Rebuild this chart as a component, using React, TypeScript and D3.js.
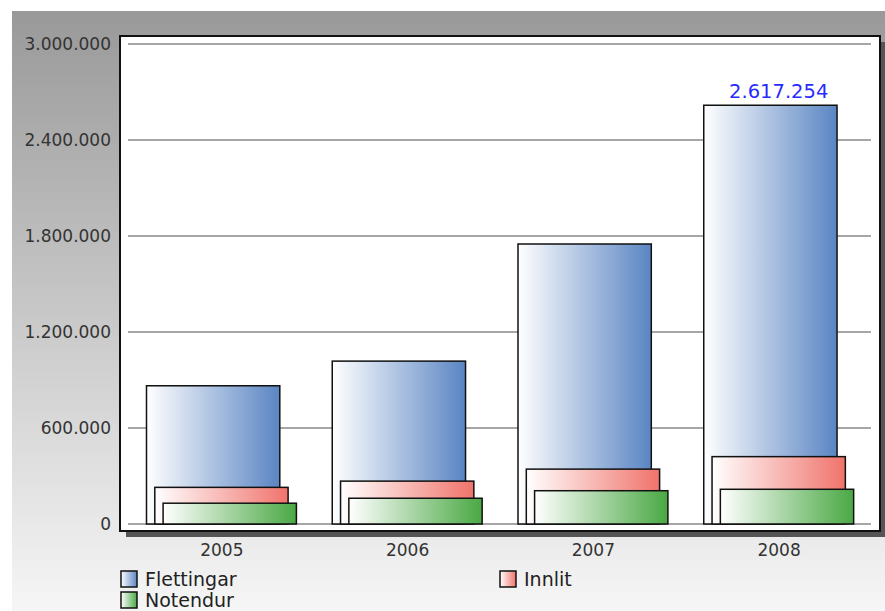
import React, { useEffect, useRef } from 'react';
import * as d3 from 'd3';

const years = ['2005', '2006', '2007', '2008'];
const seriesNames = ['Flettingar', 'Innlit', 'Notendur'];
const flettingar = [864000, 1018000, 1750000, 2617254];
const innlit = [229000, 268000, 343000, 421000];
const notendur = [130000, 161000, 208000, 217000];
const yTicks = [0, 600000, 1200000, 1800000, 2400000, 3000000];
const seriesColors = ['#5a85c3', '#f0736b', '#4aa844'];

const fmt = (v: number) => d3.format(',')(v).replace(/,/g, '.');

const App: React.FC = () => {
  const svgRef = useRef<SVGSVGElement>(null);

  useEffect(() => {
    if (!svgRef.current) return;
    const svg = d3.select(svgRef.current);
    svg.selectAll('*').remove();
    const width = 885;
    const height = 611;
    const font = '"DejaVu Sans", Verdana, sans-serif';

    const defs = svg.append('defs');
    const bg = defs.append('linearGradient').attr('id', 'bg').attr('x1', 0).attr('y1', 0).attr('x2', 0).attr('y2', 1);
    bg.append('stop').attr('offset', '0%').attr('stop-color', '#999999');
    bg.append('stop').attr('offset', '100%').attr('stop-color', '#f6f6f6');
    seriesColors.forEach((c, i) => {
      const g = defs.append('linearGradient').attr('id', `g${i}`).attr('x1', 0).attr('y1', 0).attr('x2', 1).attr('y2', 0);
      g.append('stop').attr('offset', '0%').attr('stop-color', '#ffffff');
      g.append('stop').attr('offset', '100%').attr('stop-color', c);
    });

    // background
    svg.append('rect').attr('x', 0).attr('y', 0).attr('width', width).attr('height', height).attr('fill', '#ffffff');
    svg.append('rect').attr('x', 12).attr('y', 11).attr('width', width - 12).attr('height', height - 11).attr('fill', 'url(#bg)');

    // plot frame + shadow
    const frame = { left: 120, top: 36, right: 880, bottom: 531 };
    svg.append('rect')
      .attr('x', frame.left + 6).attr('y', frame.top + 6)
      .attr('width', frame.right - frame.left).attr('height', frame.bottom - frame.top)
      .attr('fill', '#555555');
    svg.append('rect')
      .attr('x', frame.left).attr('y', frame.top)
      .attr('width', frame.right - frame.left).attr('height', frame.bottom - frame.top)
      .attr('fill', '#ffffff').attr('stroke', '#111').attr('stroke-width', 2);

    const x = d3.scaleBand<string>().domain(years).range([128, 871]);
    const y = d3.scaleLinear().domain([0, 3000000]).range([524, 44]);

    // gridlines
    svg.append('g').selectAll('line').data(yTicks).join('line')
      .attr('x1', 128).attr('x2', 871)
      .attr('y1', d => y(d)).attr('y2', d => y(d))
      .attr('stroke', '#888').attr('stroke-width', 1.5);

    // y tick labels
    svg.append('g').selectAll('text').data(yTicks).join('text')
      .attr('x', 111).attr('y', d => y(d) + 6)
      .attr('text-anchor', 'end')
      .attr('font-family', font).attr('font-size', 17).attr('fill', '#333')
      .text(d => fmt(d));

    // bars
    const seriesData = [flettingar, innlit, notendur];
    const barW = 133.3;
    const shift = 8.3;
    const inset = 18.5;
    seriesData.forEach((vals, si) => {
      svg.append('g').selectAll('rect').data(vals).join('rect')
        .attr('x', (_, i) => (x(years[i]) as number) + inset + si * shift)
        .attr('y', d => y(d))
        .attr('width', barW)
        .attr('height', d => y(0) - y(d))
        .attr('fill', `url(#g${si})`)
        .attr('stroke', '#111').attr('stroke-width', 1.5);
    });

    // value label for max
    const maxIdx = flettingar.indexOf(d3.max(flettingar) as number);
    svg.append('text')
      .attr('x', (x(years[maxIdx]) as number) + inset + (barW + 2 * shift) / 2)
      .attr('y', y(flettingar[maxIdx]) - 7)
      .attr('text-anchor', 'middle')
      .attr('font-family', font).attr('font-size', 19.5).attr('fill', '#2a2aff')
      .text(fmt(flettingar[maxIdx]));

    // x labels
    svg.append('g').selectAll('text').data(years).join('text')
      .attr('x', d => (x(d) as number) + x.bandwidth() / 2 + 1)
      .attr('y', 556)
      .attr('text-anchor', 'middle')
      .attr('font-family', font).attr('font-size', 17).attr('fill', '#333')
      .text(d => d);

    // legend
    const legendPos = [
      { x: 121, y: 571 },
      { x: 500, y: 571 },
      { x: 121, y: 592 },
    ];
    seriesNames.forEach((name, i) => {
      const p = legendPos[i];
      svg.append('rect')
        .attr('x', p.x).attr('y', p.y).attr('width', 16).attr('height', 16)
        .attr('fill', `url(#g${i})`).attr('stroke', '#111').attr('stroke-width', 1.5);
      svg.append('text')
        .attr('x', p.x + 24).attr('y', p.y + 15)
        .attr('font-family', font).attr('font-size', 19).attr('fill', '#222')
        .text(name);
    });
  }, []);

  return (
    <svg
      ref={svgRef}
      width={885}
      height={611}
      style={{ position: 'absolute', left: 0, top: 0, display: 'block' }}
    />
  );
};

export default App;
